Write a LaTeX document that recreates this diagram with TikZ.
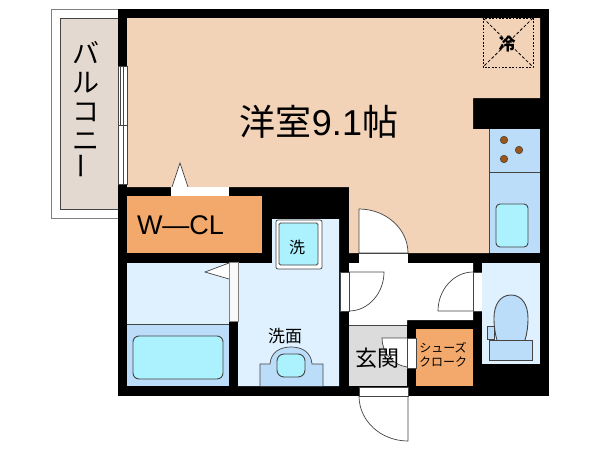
\documentclass[tikz,border=0pt]{standalone}
\usepackage{fontspec}
\setmainfont{Liberation Sans}
\newfontfamily\jp{Noto Sans CJK JP}
\definecolor{roomc}{HTML}{F2D3B8}
\definecolor{clc}{HTML}{F2A96B}
\definecolor{balc}{HTML}{E4D9D1}
\definecolor{palec}{HTML}{DFF1FE}
\definecolor{midc}{HTML}{BBDDF9}
\definecolor{aquac}{HTML}{ABF1FE}
\definecolor{grayc}{HTML}{DCDCDC}
\definecolor{linec}{HTML}{444444}
\definecolor{dotc}{HTML}{9A5518}
\tikzset{
  x=1pt,y=-1pt,
  plain/.style={draw=linec,line width=0.7pt},
  fixture/.style={draw=linec,line width=0.9pt},
  slot/.style={fill=white,draw=linec,line width=0.4pt},
  jplabel/.style={inner sep=0pt,font=\jp,text=black}
}
\begin{document}
\begin{tikzpicture}
\useasboundingbox (0,0) rectangle (600,450);
% balcony
\draw[fill=white,draw=gray,line width=0.7pt] (51,9) rectangle (118,218);
\draw[fill=balc,draw=linec,line width=0.7pt] (60,18) rectangle (118,209);
% outer wall
\fill[black] (118,9) rectangle (549,396);
% main room
\fill[roomc] (127,18) -- (540,18) -- (540,98) -- (473,98) -- (473,129) -- (489,129) -- (489,253) -- (349,253) -- (349,187) -- (127,187) -- cycle;
% kitchen
\fill[midc] (489,129) rectangle (540,253);
\draw[plain] (489,129) -- (489,253);
\draw[plain] (489,172) -- (540,172);
\foreach \p in {(504,140),(519,150),(504,159)} \draw[fill=dotc,draw=linec,line width=0.5pt] \p circle (3.8);
\draw[fixture,fill=aquac,rounded corners=4pt] (496,204) rectangle (528,247);
% fridge
\draw[black,dash pattern=on 1.8pt off 1.6pt,line width=1pt] (483,18) rectangle (533,67);
\draw[black,dash pattern=on 3pt off 2pt,line width=0.8pt] (483,18) -- (533,67) (533,18) -- (483,67);
\node[jplabel,font=\jp\bfseries\fontsize{17}{17}\selectfont] (fridge) at (507,44) {冷};
% closet
\fill[clc] (127,196) rectangle (262,253);
\node[inner sep=0pt,font=\fontsize{27}{27}\selectfont] (wcl) at (180.5,225) {W—CL};
% closet door
\fill[white] (171,187) rectangle (229,196);
\draw[plain,fill=white] (172,187) -- (180,163) -- (188,187);
% balcony window
\draw[slot] (118,66) rectangle (127,184);
\draw[linec,line width=0.5pt] (120.5,66) -- (120.5,125) (123,66) -- (123,184) (118,125) -- (127,125);
% bath
\fill[palec] (127,263) rectangle (229,324);
\fill[midc] (127,324) rectangle (229,386);
\draw[plain] (127,324) -- (229,324);
\draw[fixture,fill=aquac,rounded corners=6pt] (133,336) rectangle (223,379);
% wash room
\fill[palec] (272,219) -- (339,219) -- (339,386) -- (238,386) -- (238,263) -- (272,263) -- cycle;
\draw[fill=white!95!gray,draw=gray,line width=0.4pt] (229,262) rectangle (238,321);
\draw[plain,fill=white] (229,263) -- (205,272) -- (229,279);
\draw[plain,fill=white,rounded corners=2pt] (276,220) rectangle (322,269);
\draw[fixture,fill=aquac,rounded corners=1.5pt] (279,223) rectangle (318,265);
\node[jplabel,font=\jp\fontsize{16}{16}\selectfont] (wash) at (297,247) {洗};
\draw[plain,fill=midc] (260,386) -- (260,364) -- (270,364) .. controls (271,352) and (280,347) .. (291,347) .. controls (302,347) and (311,352) .. (312,364) -- (323,364) -- (323,386);
\draw[fixture,fill=aquac,rounded corners=7pt] (277,354) rectangle (305,377);
\node[jplabel,font=\jp\fontsize{17}{17}\selectfont] (basin) at (285,336) {洗面};
% hall
\fill[white] (349,263) -- (473,263) -- (473,320) -- (407,320) -- (407,325) -- (349,325) -- cycle;
\fill[grayc] (349,325) rectangle (407,386);
\draw[plain] (349,325) -- (407,325);
% shoes cupboard
\fill[clc] (416,329) rectangle (473,386);
\node[jplabel,align=center,font=\jp\fontsize{12}{14}\selectfont] (shoes) at (443,355) {シューズ\\クローク};
% room door
\draw[plain,fill=white] (359,253) -- (359,209) .. controls (386,209) and (408,229) .. (408,253) -- cycle;
\fill[white] (359,253) rectangle (408,263);
\draw[plain] (359,253) -- (408,253);
% entrance door
\fill[white] (359,387) rectangle (408,396);
\draw[plain] (359,387) rectangle (408,396);
\draw[plain] (408,396) -- (408,441) .. controls (381,441) and (359,421) .. (359,396);
% hall doors
\fill[white] (340,272) rectangle (349,311);
\draw[plain] (349,272) rectangle (340,311);
\draw[plain] (349,272) -- (384,272) .. controls (384,293.5) and (368,311) .. (349,311);
\fill[white] (473,272) rectangle (482,311);
\draw[plain] (473,272) rectangle (482,311);
\draw[plain] (473,311) -- (438,311) .. controls (438,289.5) and (454,272) .. (473,272);
% shoes door
\fill[white] (407,338) rectangle (416,368);
\fill[white] (382,338) -- (407,338) -- (407,367) .. controls (393,365) and (382,353) .. (382,338);
\draw[plain] (407,338) -- (382,338) .. controls (382,353) and (393,365) .. (407,367);
\draw[plain] (407,338) rectangle (416,368);
\node[jplabel,font=\jp\fontsize{22}{22}\selectfont] (genkan) at (377,358) {玄関};
% toilet
\fill[palec] (482,263) rectangle (540,364);
\draw[fixture,fill=midc] (497,340) .. controls (495,334) and (494,326) .. (494,318) .. controls (494,305) and (500,295) .. (511,295) .. controls (522,295) and (528,305) .. (528,318) .. controls (528,326) and (527,334) .. (525,340);
\draw[fixture,fill=midc] (489,340) rectangle (532,360);
\draw[plain,fill=midc] (487,326) rectangle (494,339);
% balcony label
\node[jplabel,align=center,font=\jp\fontsize{27}{29}\selectfont] (bal) at (86,110) {バ\\ル\\コ\\ニ\\\rotatebox{90}{ー}};
% room label
\node[inner sep=0pt,font=\fontsize{36}{36}\selectfont] (room) at (319,122) {{\jp 洋室}9.1{\jp 帖}};
\end{tikzpicture}
\end{document}
